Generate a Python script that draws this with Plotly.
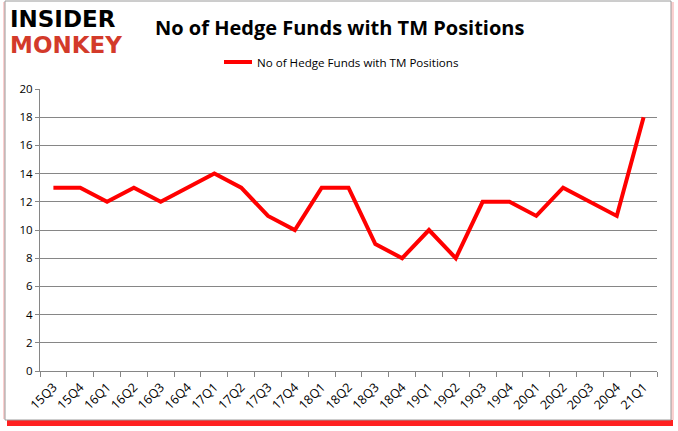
import plotly.graph_objects as go

quarters = ["15Q3","15Q4","16Q1","16Q2","16Q3","16Q4","17Q1","17Q2","17Q3","17Q4",
            "18Q1","18Q2","18Q3","18Q4","19Q1","19Q2","19Q3","19Q4","20Q1","20Q2",
            "20Q3","20Q4","21Q1"]
funds = [13,13,12,13,12,13,14,13,11,10,13,13,9,8,10,8,12,12,11,13,12,11,18]
y_ticks = [0,2,4,6,8,10,12,14,16,18,20]
series_name = "No of Hedge Funds with TM Positions"

W, H = 678, 431
L, R, T, B = 40, 21, 89, 60

def px(x):
    return (x - L) / (W - L - R)

def py(y):
    return (H - B - y) / (H - T - B)

fig = go.Figure()
fig.add_trace(go.Scatter(x=quarters, y=funds, mode="lines", name=series_name,
                         line=dict(color="#ff0000", width=4), showlegend=False))

shapes = [
    # red shadow
    dict(type="rect", xref="paper", yref="paper", x0=px(7), x1=px(673), y0=py(426), y1=py(419),
         fillcolor="#ff2020", line=dict(width=0), layer="below"),
    dict(type="rect", xref="paper", yref="paper", x0=px(3), x1=px(7), y0=py(419), y1=py(2),
         fillcolor="#fbd0d0", line=dict(width=0), layer="below"),
    dict(type="rect", xref="paper", yref="paper", x0=px(671), x1=px(674), y0=py(420), y1=py(2),
         fillcolor="#fbd0d0", line=dict(width=0), layer="below"),
    # frame
    dict(type="rect", xref="paper", yref="paper", x0=px(5), x1=px(671), y0=py(420), y1=py(1),
         fillcolor="white", line=dict(color="#9a9a9a", width=1), layer="below"),
    # legend line
    dict(type="line", xref="paper", yref="paper", x0=px(224), x1=px(252), y0=py(62), y1=py(62),
         line=dict(color="#ff0000", width=4)),
]

annotations = [
    dict(text="<b>No of Hedge Funds with TM Positions</b>", xref="paper", yref="paper",
         x=px(339), y=py(27), xanchor="center", yanchor="middle", showarrow=False,
         font=dict(family="Open Sans", size=20, color="#000000")),
    dict(text=series_name, xref="paper", yref="paper", x=px(255), y=py(62),
         xanchor="left", yanchor="middle", showarrow=False,
         font=dict(family="Open Sans", size=11.6, color="#000000")),
    dict(text="<b>INSIDER</b>", xref="paper", yref="paper", x=px(8), y=py(19),
         xanchor="left", yanchor="middle", showarrow=False,
         font=dict(family="DejaVu Sans", size=23, color="#000000")),
    dict(text="<b>MONKEY</b>", xref="paper", yref="paper", x=px(8), y=py(45),
         xanchor="left", yanchor="middle", showarrow=False,
         font=dict(family="DejaVu Sans", size=23, color="#d33a2a")),
]

fig.update_layout(
    width=W, height=H,
    margin=dict(l=L, r=R, t=T, b=B),
    paper_bgcolor="white", plot_bgcolor="white",
    shapes=shapes, annotations=annotations,
    showlegend=False,
    xaxis=dict(type="category", range=[-0.5, len(quarters) - 0.5],
               tickson="boundaries", ticks="outside", ticklen=5, tickcolor="#868686",
               showline=True, linecolor="#868686", linewidth=1, showgrid=False,
               tickangle=-45, tickfont=dict(family="Open Sans", size=12.5, color="#000000"),
               ticklabelstandoff=3,
               automargin=False, fixedrange=True),
    yaxis=dict(range=[0, 20], tickvals=y_ticks, ticks="outside", ticklen=4, tickcolor="#868686",
               showline=True, linecolor="#868686", linewidth=1,
               showgrid=True, gridcolor="#868686", gridwidth=1, zeroline=False,
               automargin=False, fixedrange=True,
               tickfont=dict(family="Open Sans", size=11.5, color="#000000")),
)

fig.write_html("out.html", config={"displayModeBar": False},
               post_script="document.body.style.margin='0';")
